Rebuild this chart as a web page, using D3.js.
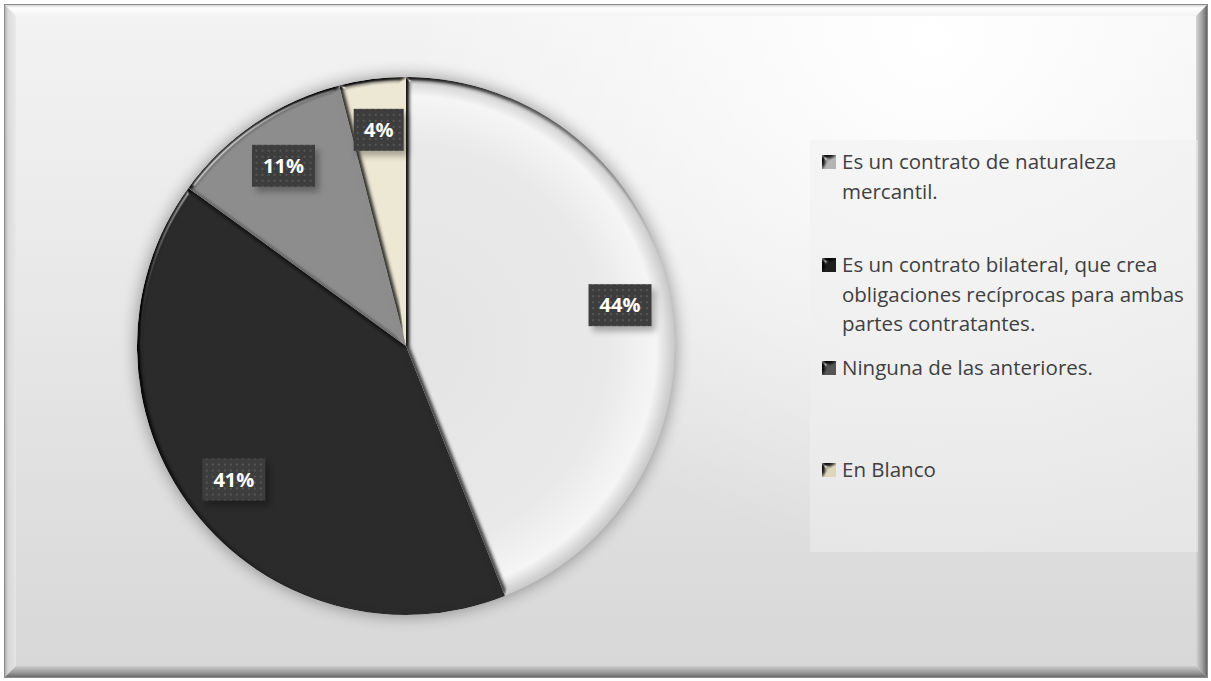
<!DOCTYPE html>
<html>
<head>
<meta charset="utf-8">
<script src="https://cdn.jsdelivr.net/npm/d3@7/dist/d3.min.js"></script>
<style>
  html, body { margin: 0; padding: 0; background: #ffffff; }
  svg { display: block; }
</style>
</head>
<body>
<svg id="chart" width="1211" height="681"></svg>
<script>
// Survey answers and their shares (percent)
const categories = [
  "Es un contrato de naturaleza mercantil.",
  "Es un contrato bilateral, que crea obligaciones recíprocas para ambas partes contratantes.",
  "Ninguna de las anteriores.",
  "En Blanco"
];
const values = [44, 41, 11, 4];
const labels = ["44%", "41%", "11%", "4%"];
const legendLines = [
  ["Es un contrato de naturaleza", "mercantil."],
  ["Es un contrato bilateral, que crea", "obligaciones recíprocas para ambas", "partes contratantes."],
  ["Ninguna de las anteriores."],
  ["En Blanco"]
];
const colors = ["#e6e6e6", "#2a2a2a", "#8c8c8c", "#ece7d3"];
const markerColors = ["#b4b4b4", "#1e1e1e", "#555555", "#dcd6bc"];

const W = 1211, H = 681;
const svg = d3.select("#chart");
const defs = svg.append("defs");

// Chart-area background: light from the top, brightest toward the upper right
const bgV = defs.append("linearGradient").attr("id", "bgV")
  .attr("x1", 0).attr("y1", 0).attr("x2", 0).attr("y2", 1);
bgV.append("stop").attr("offset", 0).attr("stop-color", "#f3f3f3");
bgV.append("stop").attr("offset", 0.5).attr("stop-color", "#e6e6e6");
bgV.append("stop").attr("offset", 1).attr("stop-color", "#d7d7d7");
const bgR = defs.append("radialGradient").attr("id", "bgR")
  .attr("gradientUnits", "userSpaceOnUse")
  .attr("cx", 930).attr("cy", 40).attr("r", 520);
bgR.append("stop").attr("offset", 0).attr("stop-color", "#ffffff").attr("stop-opacity", 1);
bgR.append("stop").attr("offset", 1).attr("stop-color", "#ffffff").attr("stop-opacity", 0);

// Frame bevel gradients
function linGrad(id, x1, y1, x2, y2, stops) {
  const g = defs.append("linearGradient").attr("id", id)
    .attr("x1", x1).attr("y1", y1).attr("x2", x2).attr("y2", y2);
  stops.forEach(s => g.append("stop").attr("offset", s[0]).attr("stop-color", s[1]));
}
linGrad("bevTop", 0, 0, 0, 1, [[0, "#d0d0d0"], [0.25, "#ffffff"], [1, "#f3f3f3"]]);
linGrad("bevLeft", 0, 0, 1, 0, [[0, "#a8a8a8"], [0.3, "#d6d6d6"], [1, "#e8e8e8"]]);
linGrad("bevRight", 0, 0, 1, 0, [[0, "#d6d6d6"], [0.6, "#9c9c9c"], [1, "#666666"]]);
linGrad("bevBottom", 0, 0, 0, 1, [[0, "#cdcdcd"], [0.6, "#989898"], [1, "#6c6c6c"]]);

// Bevel lighting for slices: flat areas keep their colour, sloped rims get lit / shaded
const bevel = defs.append("filter").attr("id", "bevel")
  .attr("color-interpolation-filters", "sRGB")
  .attr("x", "-5%").attr("y", "-5%").attr("width", "110%").attr("height", "110%");
bevel.append("feGaussianBlur").attr("in", "SourceAlpha").attr("stdDeviation", 2.5).attr("result", "blur");
const spec = bevel.append("feSpecularLighting").attr("in", "blur")
  .attr("surfaceScale", 4).attr("specularConstant", 0.9).attr("specularExponent", 30)
  .attr("lighting-color", "#ffffff").attr("result", "spec");
spec.append("feDistantLight").attr("azimuth", 225).attr("elevation", 20);
bevel.append("feComposite").attr("in", "spec").attr("in2", "SourceAlpha").attr("operator", "in").attr("result", "specOut");
const diff = bevel.append("feDiffuseLighting").attr("in", "blur")
  .attr("surfaceScale", 4).attr("diffuseConstant", 1.4142)
  .attr("lighting-color", "#ffffff").attr("result", "diff");
diff.append("feDistantLight").attr("azimuth", 45).attr("elevation", 45);
bevel.append("feComposite").attr("in", "SourceGraphic").attr("in2", "diff")
  .attr("operator", "arithmetic").attr("k1", 1).attr("k2", 0).attr("k3", 0).attr("k4", 0).attr("result", "lit");
bevel.append("feComposite").attr("in", "lit").attr("in2", "specOut")
  .attr("operator", "arithmetic").attr("k1", 0).attr("k2", 1).attr("k3", 0.7).attr("k4", 0).attr("result", "out");
bevel.append("feComposite").attr("in", "out").attr("in2", "SourceAlpha").attr("operator", "in");

// Soft shadow around the pie
const shadow = defs.append("filter").attr("id", "pieShadow")
  .attr("x", "-20%").attr("y", "-20%").attr("width", "140%").attr("height", "140%");
shadow.append("feGaussianBlur").attr("in", "SourceAlpha").attr("stdDeviation", 8);

// Label box shadow
const lblShadow = defs.append("filter").attr("id", "lblShadow")
  .attr("color-interpolation-filters", "sRGB")
  .attr("x", "-30%").attr("y", "-30%").attr("width", "170%").attr("height", "180%");
lblShadow.append("feGaussianBlur").attr("in", "SourceAlpha").attr("stdDeviation", 3).attr("result", "b");
lblShadow.append("feOffset").attr("in", "b").attr("dx", 4).attr("dy", 5).attr("result", "o");
lblShadow.append("feComponentTransfer").attr("in", "o").attr("result", "s")
  .append("feFuncA").attr("type", "linear").attr("slope", 0.3);
const lm = lblShadow.append("feMerge");
lm.append("feMergeNode").attr("in", "s");
lm.append("feMergeNode").attr("in", "SourceGraphic");

// Dotted texture for label boxes
const pat = defs.append("pattern").attr("id", "dots")
  .attr("patternUnits", "userSpaceOnUse").attr("width", 6).attr("height", 6);
pat.append("rect").attr("width", 6).attr("height", 6).attr("fill", "#3d3d3d");
pat.append("rect").attr("x", 2).attr("y", 2).attr("width", 2).attr("height", 2).attr("fill", "#565656");

// Light slice: brighter toward the outer rim (centred on the pie's own origin)
const sheen = defs.append("radialGradient").attr("id", "sheen0")
  .attr("gradientUnits", "userSpaceOnUse").attr("cx", 0).attr("cy", 0).attr("r", 269);
sheen.append("stop").attr("offset", 0).attr("stop-color", "#e3e3e3");
sheen.append("stop").attr("offset", 0.75).attr("stop-color", "#e8e8e8");
sheen.append("stop").attr("offset", 0.93).attr("stop-color", "#f4f4f4");
sheen.append("stop").attr("offset", 1).attr("stop-color", "#c8c8c8");

// ---- Frame ----
const fx = 5, fy = 5, fw = 1202, fh = 672, b = 11;
svg.append("rect").attr("x", fx).attr("y", fy).attr("width", fw).attr("height", fh).attr("fill", "url(#bgV)");
svg.append("rect").attr("x", fx).attr("y", fy).attr("width", fw).attr("height", fh).attr("fill", "url(#bgR)");
svg.append("polygon").attr("points", [[fx, fy], [fx + fw, fy], [fx + fw - b, fy + b], [fx + b, fy + b]].join(" ")).attr("fill", "url(#bevTop)");
svg.append("polygon").attr("points", [[fx, fy], [fx + b, fy + b], [fx + b, fy + fh - b], [fx, fy + fh]].join(" ")).attr("fill", "url(#bevLeft)").attr("opacity", 0.8);
svg.append("polygon").attr("points", [[fx + fw, fy], [fx + fw, fy + fh], [fx + fw - b, fy + fh - b], [fx + fw - b, fy + b]].join(" ")).attr("fill", "url(#bevRight)");
svg.append("polygon").attr("points", [[fx, fy + fh], [fx + fw, fy + fh], [fx + fw - b, fy + fh - b], [fx + b, fy + fh - b]].join(" ")).attr("fill", "url(#bevBottom)");
svg.append("rect").attr("x", fx - 0.5).attr("y", fy - 0.5).attr("width", fw + 1).attr("height", fh + 1)
  .attr("fill", "none").attr("stroke", "#8a8a8a").attr("stroke-width", 1);

// ---- Pie ----
const cx = 406, cy = 346, R = 269;
const pie = d3.pie().sort(null).value(d => d);
const arcs = pie(values);
const arc = d3.arc().innerRadius(0).outerRadius(R);
const labelArc = d3.arc().innerRadius(R * 0.81).outerRadius(R * 0.81);

const gPie = svg.append("g").attr("transform", `translate(${cx},${cy})`);
gPie.append("circle").attr("r", R + 1).attr("fill", "#000").attr("opacity", 0.35).attr("filter", "url(#pieShadow)");

gPie.selectAll("path.slice").data(arcs).join("path")
  .attr("class", "slice")
  .attr("d", arc)
  .attr("fill", (d, i) => i === 0 ? "url(#sheen0)" : colors[i])
  .attr("filter", "url(#bevel)");

// Value labels
const gLbl = gPie.selectAll("g.lbl").data(arcs).join("g")
  .attr("class", "lbl")
  .attr("transform", d => `translate(${labelArc.centroid(d)})`);
gLbl.each(function (d, i) {
  const g = d3.select(this);
  const bw = labels[i].length > 2 ? 63 : 50, bh = 42;
  g.append("rect").attr("x", -bw / 2).attr("y", -bh / 2).attr("width", bw).attr("height", bh)
    .attr("fill", "url(#dots)").attr("filter", "url(#lblShadow)");
  g.append("text").attr("text-anchor", "middle").attr("dy", "0.36em")
    .attr("font-family", "'Open Sans', 'DejaVu Sans', sans-serif")
    .attr("font-weight", 700).attr("font-size", 20).attr("fill", "#ffffff")
    .text(labels[i]);
});

// ---- Legend ----
const gLeg = svg.append("g");
gLeg.append("rect").attr("x", 810).attr("y", 140).attr("width", 388).attr("height", 412)
  .attr("fill", "#f0f0f0").attr("opacity", 0.5);

const legendY = [162, 265, 368, 470];
const lineH = 29.5;
const legItems = gLeg.selectAll("g.item").data(categories).join("g")
  .attr("class", "item")
  .attr("transform", (d, i) => `translate(822,${legendY[i]})`);
legItems.append("rect").attr("x", 0).attr("y", -7).attr("width", 14).attr("height", 14)
  .attr("fill", (d, i) => markerColors[i]).attr("filter", "url(#bevel)");
legItems.each(function (d, i) {
  const t = d3.select(this).append("text")
    .attr("font-family", "'Open Sans', 'Noto Sans', sans-serif")
    .attr("font-size", 20.5).attr("fill", "#404040");
  legendLines[i].forEach((ln, k) => {
    t.append("tspan").attr("x", 20).attr("y", k * lineH).attr("dy", "0.36em").text(ln);
  });
});
</script>
</body>
</html>
